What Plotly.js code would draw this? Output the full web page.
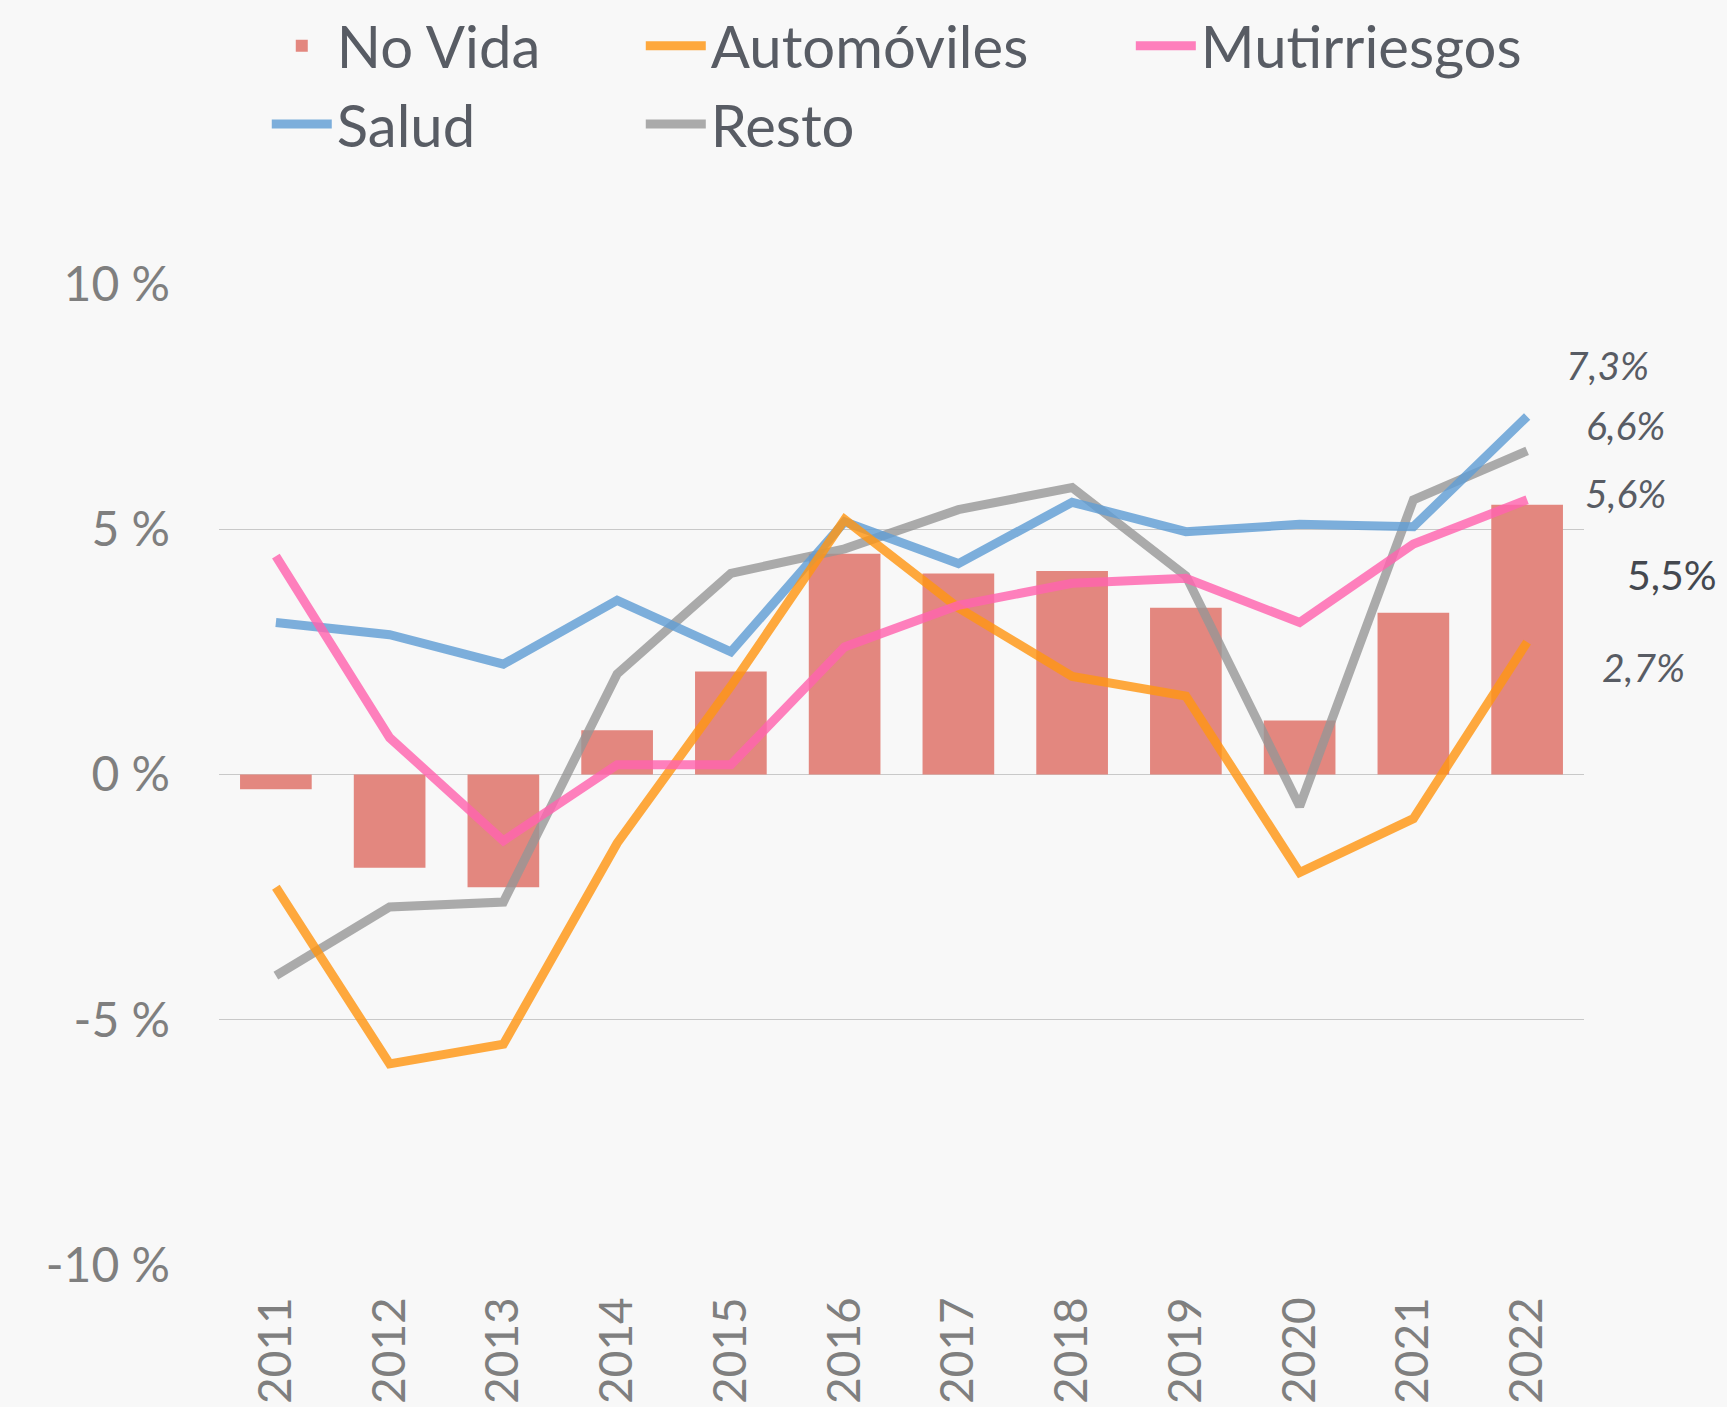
<!DOCTYPE html>
<html>
<head>
<meta charset="utf-8">
<script src="https://cdn.plot.ly/plotly-3.0.1.min.js"></script>
<style>
  html, body { margin: 0; padding: 0; background: #f8f8f8; }
  #chart { width: 1727px; height: 1407px; }
</style>
</head>
<body>
<div id="chart"></div>
<script>
// ---- data ----
const years = ["2011","2012","2013","2014","2015","2016","2017","2018","2019","2020","2021","2022"];
const noVida = [-0.3, -1.9, -2.3, 0.9, 2.1, 4.5, 4.1, 4.15, 3.4, 1.1, 3.3, 5.5];
const automoviles = [-2.3, -5.9, -5.5, -1.4, 1.8, 5.2, 3.4, 2.0, 1.6, -2.0, -0.9, 2.7];
const mutirriesgos = [4.45, 0.75, -1.35, 0.2, 0.2, 2.6, 3.45, 3.9, 4.0, 3.1, 4.7, 5.6];
const salud = [3.1, 2.85, 2.25, 3.55, 2.5, 5.15, 4.3, 5.55, 4.95, 5.1, 5.05, 7.3];
const resto = [-4.1, -2.7, -2.6, 2.05, 4.1, 4.6, 5.4, 5.85, 4.05, -0.65, 5.6, 6.6];
const yTickVals = [-10, -5, 0, 5, 10];
const yTickText = ["-10 %", "-5 %", "0 %", "5 %", "10 %"];
const endLabels = ["7,3%", "6,6%", "5,6%", "5,5%", "2,7%"];
const endValues = [salud[11], resto[11], mutirriesgos[11], noVida[11], automoviles[11]];

const FONT = "Lato, 'Open Sans', sans-serif";
const TXT = "#585c64";

const traces = [
  { type: "bar", name: "No Vida", x: years, y: noVida,
    marker: { color: "#e3877f" }, legend: "legend", legendrank: 1 },
  { type: "scatter", mode: "lines", name: "Resto", x: years, y: resto,
    line: { color: "rgba(150,150,150,0.8)", width: 9 }, legend: "legend2", legendrank: 2 },
  { type: "scatter", mode: "lines", name: "Salud", x: years, y: salud,
    line: { color: "rgba(96,158,212,0.82)", width: 9 }, legend: "legend", legendrank: 2 },
  { type: "scatter", mode: "lines", name: "Automóviles", x: years, y: automoviles,
    line: { color: "rgba(255,150,20,0.82)", width: 9 }, legend: "legend2", legendrank: 1 },
  { type: "scatter", mode: "lines", name: "Mutirriesgos", x: years, y: mutirriesgos,
    line: { color: "rgba(255,100,175,0.82)", width: 9 }, legend: "legend3", legendrank: 1 }
];

// label offsets (style only)
const lastIdx = years.length - 1;
const labelShift = [[80, 51, true], [98, 26, true], [98, 7, true], [145, -70, false], [116, -25, true]];
const annotations = endLabels.map((t, i) => ({
  x: lastIdx, y: endValues[i], xref: "x", yref: "y",
  text: labelShift[i][2] ? "<i>" + t + "</i>" : t,
  showarrow: false, xshift: labelShift[i][0], yshift: labelShift[i][1],
  font: { family: FONT, size: labelShift[i][2] ? 39 : 41, color: labelShift[i][2] ? TXT : "#44484f" }
}));

const legendBase = {
  orientation: "v", yanchor: "top", xanchor: "left", y: 1.288,
  bgcolor: "rgba(0,0,0,0)", font: { family: FONT, size: 58, color: TXT },
  itemwidth: 60, traceorder: "normal", itemclick: false, itemdoubleclick: false
};

const layout = {
  width: 1727, height: 1407,
  margin: { l: 219, r: 143, t: 284, b: 142, pad: 0, autoexpand: false },
  paper_bgcolor: "#f8f8f8", plot_bgcolor: "#f8f8f8",
  font: { family: FONT, color: "#7f7f7f" },
  bargap: 0.37,
  showlegend: true,
  legend: Object.assign({}, legendBase, { x: 0.035 }),
  legend2: Object.assign({}, legendBase, { x: 0.309 }),
  legend3: Object.assign({}, legendBase, { x: 0.668 }),
  xaxis: {
    type: "category", categoryorder: "array", categoryarray: years,
    range: [-0.5, years.length - 0.5], autorange: false,
    tickangle: -90, showgrid: false, zeroline: false, showline: false,
    ticks: "", ticklabelstandoff: 22,
    tickfont: { family: FONT, size: 46, color: "#7f7f7f" }
  },
  yaxis: {
    range: [-10, 10], autorange: false, tickvals: yTickVals, ticktext: yTickText,
    showgrid: true, gridcolor: "#c9c9c9", gridwidth: 1,
    zeroline: true, zerolinecolor: "#c9c9c9", zerolinewidth: 1, showline: false,
    ticks: "", ticklabelstandoff: 48,
    tickfont: { family: FONT, size: 48, color: "#7f7f7f" }
  },
  annotations: annotations
};

Plotly.newPlot("chart", traces, layout, { staticPlot: true, displayModeBar: false });
</script>
</body>
</html>
